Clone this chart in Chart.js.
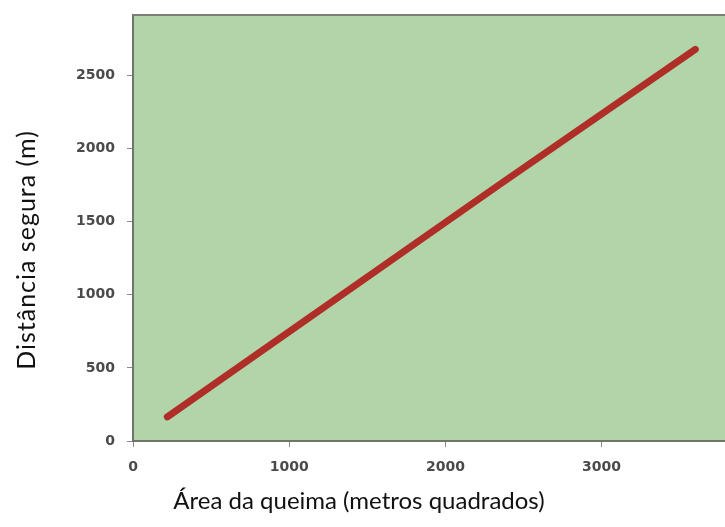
<!DOCTYPE html>
<html>
<head>
<meta charset="utf-8">
<script src="https://cdn.jsdelivr.net/npm/chart.js@4.4.1/dist/chart.umd.min.js"></script>
<style>
  html, body { margin: 0; padding: 0; background: #ffffff; }
  #wrap { width: 725px; height: 527px; position: relative; }
</style>
</head>
<body>
<div id="wrap"><canvas id="safeDistanceChart"></canvas></div>
<script>
// values
const burnArea = [220, 2340, 3600];       // m²
const safeDistance = [165, 1750, 2680];   // m
const xTicks = [0, 1000, 2000, 3000];
const yTicks = [0, 500, 1000, 1500, 2000, 2500];

const xTitle = "Área da queima (metros quadrados)";
const yTitle = "Distância segura (m)";

// green plot background, top border and the two axis titles
const plotDecor = {
  id: "plotDecor",
  beforeDraw(chart) {
    const { ctx, chartArea } = chart;
    ctx.save();
    ctx.fillStyle = "#b1d5a9";
    ctx.fillRect(chartArea.left, chartArea.top, chartArea.right - chartArea.left, chartArea.bottom - chartArea.top);
    ctx.restore();
  },
  afterDraw(chart) {
    const { ctx, chartArea } = chart;
    ctx.save();
    ctx.strokeStyle = "#7a7f78";
    ctx.lineWidth = 2;
    ctx.beginPath();
    ctx.moveTo(chartArea.left, chartArea.top);
    ctx.lineTo(chartArea.right, chartArea.top);
    ctx.stroke();

    ctx.fillStyle = "#111111";
    ctx.textAlign = "center";
    ctx.font = "24px Lato, 'Open Sans', sans-serif";
    ctx.textBaseline = "alphabetic";
    ctx.fillText(xTitle, 359, 509);

    ctx.font = "25px Lato, 'Open Sans', sans-serif";
    ctx.letterSpacing = "1px";
    ctx.textBaseline = "middle";
    ctx.translate(27, 250);
    ctx.rotate(-Math.PI / 2);
    ctx.fillText(yTitle, 0, 0);
    ctx.restore();
  }
};

const keepTicks = (list) => (scale) => {
  scale.ticks = list.map((v) => ({ value: v }));
};

const tickFont = { family: "'DejaVu Sans', Verdana, sans-serif", size: 14, weight: "bold" };

new Chart(document.getElementById("safeDistanceChart"), {
  type: "line",
  data: {
    datasets: [{
      data: burnArea.map((x, i) => ({ x: x, y: safeDistance[i] })),
      borderColor: "#b02e28",
      borderWidth: 7,
      borderCapStyle: "round",
      pointRadius: 0,
      fill: false,
      tension: 0
    }]
  },
  plugins: [plotDecor],
  options: {
    responsive: true,
    maintainAspectRatio: false,
    animation: false,
    layout: { padding: { top: 15, right: 0, left: 0, bottom: 0 } },
    plugins: {
      legend: { display: false },
      tooltip: { enabled: false }
    },
    scales: {
      x: {
        type: "linear",
        min: 0,
        max: 3790,
        afterBuildTicks: keepTicks(xTicks),
        afterFit: (s) => { s.height = 86; s.paddingLeft = 0; s.paddingRight = 0; },
        grid: { drawOnChartArea: false, tickLength: 6, color: "#7a7f78", tickColor: "#8a8a8a" },
        border: { color: "#6f756d", width: 2 },
        ticks: { color: "#4a4a4a", font: tickFont, padding: 12, maxRotation: 0, callback: (v) => String(v) }
      },
      y: {
        type: "linear",
        min: 0,
        max: 2915,
        afterBuildTicks: keepTicks(yTicks),
        afterFit: (s) => { s.width = 133; s.paddingTop = 0; s.paddingBottom = 0; },
        grid: { drawOnChartArea: false, tickLength: 6, color: "#7a7f78", tickColor: "#8a8a8a" },
        border: { color: "#6f756d", width: 2 },
        ticks: { color: "#4a4a4a", font: tickFont, padding: 12, callback: (v) => String(v) }
      }
    }
  }
});
</script>
</body>
</html>
